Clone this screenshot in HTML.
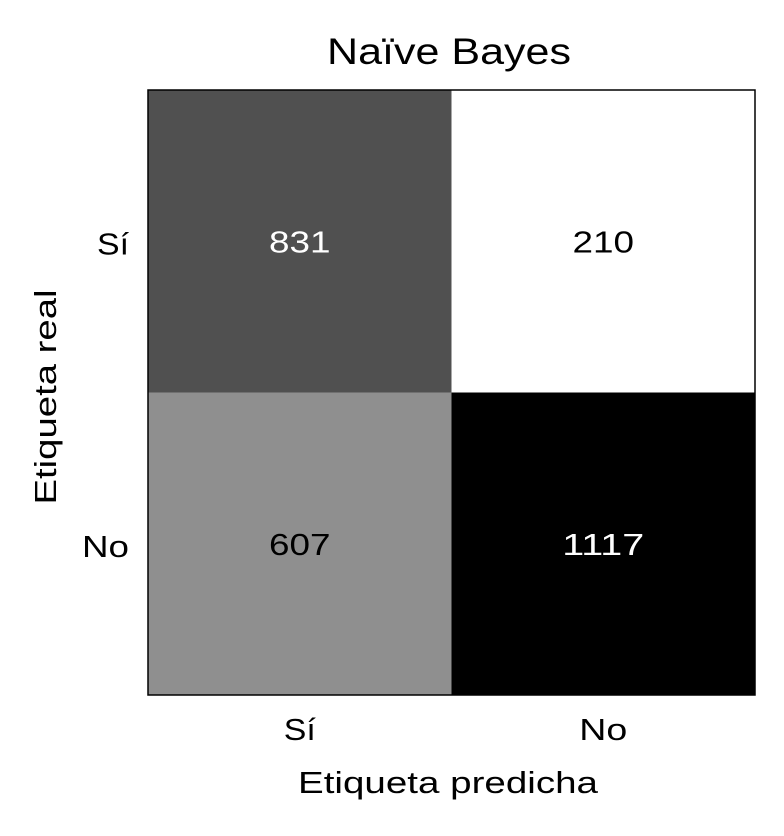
<!DOCTYPE html>
<html><head><meta charset="utf-8"><style>
html,body{margin:0;padding:0;background:#fff;}
svg text{font-family:"Liberation Sans","DejaVu Sans",sans-serif;}
</style></head><body>
<svg id="chart" width="784" height="831" viewBox="0 0 784 831">
<text x="449" y="64" text-anchor="middle" font-size="37" textLength="244" lengthAdjust="spacingAndGlyphs">Naïve Bayes</text>
<g id="cells"></g>
<rect x="148" y="90" width="607" height="605" fill="none" stroke="#000" stroke-width="1.5"/>
<g id="ticks"></g>
<text x="448" y="793" text-anchor="middle" font-size="31" textLength="300" lengthAdjust="spacingAndGlyphs">Etiqueta predicha</text>
<text transform="translate(56,397) rotate(-90)" text-anchor="middle" font-size="31" textLength="215" lengthAdjust="spacingAndGlyphs">Etiqueta real</text>
</svg>
<script>
const rowLabels = ["Sí", "No"];
const colLabels = ["Sí", "No"];
const values = [[831, 210], [607, 1117]];

const ns = "http://www.w3.org/2000/svg";
const X0 = 148, Y0 = 90, W = 607, H = 605;
const cw = W / colLabels.length, ch = H / rowLabels.length;
const flat = values.flat();
const vmin = Math.min(...flat), vmax = Math.max(...flat);
function xPos(j){ return X0 + j * cw; }
function yPos(i){ return Y0 + i * ch; }
function gray(v){ const t = (v - vmin) / (vmax - vmin); const g = Math.round((1 - t) * 255); return [g, `rgb(${g},${g},${g})`]; }

const cells = document.getElementById('cells');
values.forEach((row, i) => row.forEach((v, j) => {
  const [g, col] = gray(v);
  const r = document.createElementNS(ns, 'rect');
  r.setAttribute('x', xPos(j)); r.setAttribute('y', yPos(i));
  r.setAttribute('width', cw + 0.5); r.setAttribute('height', ch + 0.5);
  r.setAttribute('fill', col);
  
  
  cells.appendChild(r);
  const t = document.createElementNS(ns, 'text');
  const s = String(v);
  t.setAttribute('x', xPos(j) + cw / 2); t.setAttribute('y', yPos(i) + ch / 2 + 11);
  t.setAttribute('text-anchor', 'middle'); t.setAttribute('font-size', '31');
  t.setAttribute('textLength', s.length * 20.5);
  t.setAttribute('lengthAdjust', 'spacingAndGlyphs');
  t.setAttribute('fill', g < 128 ? '#fff' : '#000');
  t.textContent = s;
  
  
  cells.appendChild(t);
}));

const ticks = document.getElementById('ticks');
colLabels.forEach((l, j) => {
  const x = xPos(j) + cw / 2;
  const t = document.createElementNS(ns, 'text');
  t.setAttribute('x', x); t.setAttribute('y', 740); t.setAttribute('text-anchor', 'middle'); t.setAttribute('font-size', '31');
  t.setAttribute('textLength', l === 'No' ? 48 : 32);
  t.setAttribute('lengthAdjust', 'spacingAndGlyphs');
  t.textContent = l;
  
  
  ticks.appendChild(t);
});
rowLabels.forEach((l, i) => {
  const y = yPos(i) + ch / 2;
  const t = document.createElementNS(ns, 'text');
  t.setAttribute('x', 129); t.setAttribute('y', y + 13); t.setAttribute('text-anchor', 'end'); t.setAttribute('font-size', '31');
  t.setAttribute('textLength', l === 'No' ? 47 : 32);
  t.setAttribute('lengthAdjust', 'spacingAndGlyphs');
  t.textContent = l;
  
  
  ticks.appendChild(t);
});
</script>
</body></html>
